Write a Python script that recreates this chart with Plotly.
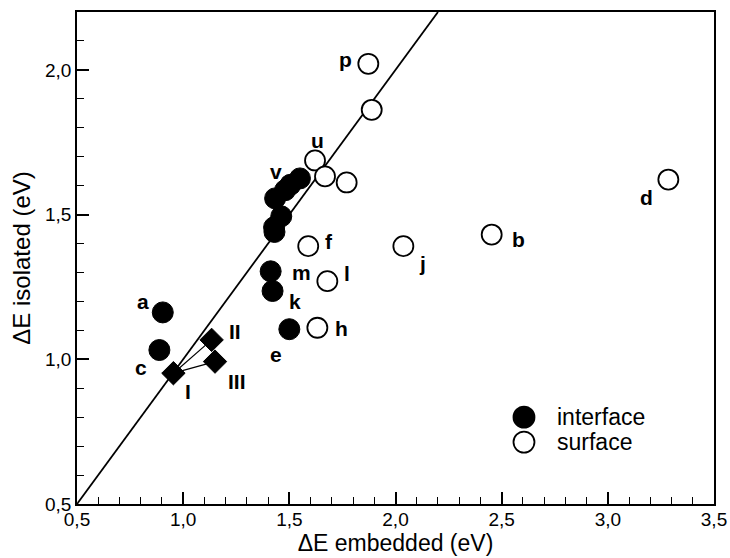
import plotly.graph_objects as go

# Excitation energies (eV): embedded-cluster vs isolated-cluster values
interface_x = [0.904, 0.888, 1.500, 1.421, 1.412, 1.430, 1.428, 1.462, 1.433, 1.480, 1.505, 1.550]
interface_y = [1.162, 1.032, 1.104, 1.236, 1.304, 1.440, 1.456, 1.494, 1.556, 1.584, 1.603, 1.625]
interface_lbl = ["a", "c", "e", "k", "m", "", "", "", "", "", "", "v"]

surface_x = [1.632, 1.589, 1.679, 2.037, 2.453, 3.285, 1.872, 1.888, 1.621, 1.668, 1.770]
surface_y = [1.109, 1.391, 1.270, 1.391, 1.431, 1.621, 2.021, 1.862, 1.687, 1.632, 1.611]
surface_lbl = ["h", "f", "l", "j", "b", "d", "p", "", "u", "", ""]

model_x = [0.954, 1.134, 1.150]
model_y = [0.952, 1.067, 0.992]
model_lbl = ["I", "II", "III"]

x_range = [0.5, 3.5]
y_range = [0.5, 2.2]
x_ticks = [0.5, 1.0, 1.5, 2.0, 2.5, 3.0, 3.5]
x_ticktext = ["0,5", "1,0", "1,5", "2,0", "2,5", "3,0", "3,5"]
y_ticks = [0.5, 1.0, 1.5, 2.0]
y_ticktext = ["0,5", "1,0", "1,5", "2,0"]

legend_names = ["interface", "surface"]

# label offsets in pixels (dx right, dy up) relative to each marker
label_shift = {
    "a": (-20, 11), "c": (-18, -17), "e": (-13, -25), "k": (22, -11),
    "m": (31, -1), "v": (-24, 7), "h": (24, -1), "f": (21, 5),
    "l": (20, 8), "j": (19, -17), "b": (27, -5), "d": (-22, -18),
    "p": (-23, 4), "u": (2, 20), "I": (15, -18), "II": (23, 8), "III": (22, -20),
}

FONT = "Liberation Sans, Arial, Helvetica, sans-serif"

fig = go.Figure()

# y = x reference line
fig.add_trace(go.Scatter(
    x=[x_range[0], y_range[1]], y=[y_range[0], y_range[1]], mode="lines",
    line=dict(color="black", width=1.8), showlegend=False, hoverinfo="skip"))

# connectors from model I to models II and III
for k in (1, 2):
    fig.add_trace(go.Scatter(
        x=[model_x[0], model_x[k]], y=[model_y[0], model_y[k]], mode="lines",
        line=dict(color="black", width=1.2), showlegend=False, hoverinfo="skip"))

fig.add_trace(go.Scatter(
    x=interface_x, y=interface_y, mode="markers", name=legend_names[0],
    showlegend=False,
    marker=dict(symbol="circle", size=21, color="black",
                line=dict(color="black", width=1))))

fig.add_trace(go.Scatter(
    x=surface_x, y=surface_y, mode="markers", name=legend_names[1],
    showlegend=False,
    marker=dict(symbol="circle", size=20, color="white",
                line=dict(color="black", width=1.8))))

fig.add_trace(go.Scatter(
    x=model_x, y=model_y, mode="markers", showlegend=False,
    marker=dict(symbol="diamond", size=18, color="black",
                line=dict(color="black", width=1))))

annotations = []
for xs, ys, ls in ((interface_x, interface_y, interface_lbl),
                   (surface_x, surface_y, surface_lbl),
                   (model_x, model_y, model_lbl)):
    for xv, yv, lb in zip(xs, ys, ls):
        if not lb:
            continue
        dx, dy = label_shift[lb]
        annotations.append(dict(
            x=xv, y=yv, xref="x", yref="y", text=lb, showarrow=False,
            xshift=dx, yshift=dy,
            font=dict(family=FONT, size=21, color="black", weight="bold")))

# key in the lower right: marker symbols drawn as pixel-sized paper shapes
key_x, key_text_x = 0.7017, 0.7504
key_rows = [0.1765, 0.1258]
key_fill = ["black", "white"]
shapes = []
for name, yrow, fill in zip(legend_names, key_rows, key_fill):
    shapes.append(dict(
        type="circle", xref="paper", yref="paper", xsizemode="pixel",
        ysizemode="pixel", xanchor=key_x, yanchor=yrow,
        x0=-10.5, x1=10.5, y0=-10.5, y1=10.5,
        fillcolor=fill, line=dict(color="black", width=1.8)))
    annotations.append(dict(
        x=key_text_x, y=yrow, xref="paper", yref="paper", text=name,
        showarrow=False, xanchor="left", yanchor="middle",
        font=dict(family=FONT, size=23, color="black")))

axis_common = dict(
    showgrid=False, zeroline=False, showline=True, linecolor="black",
    linewidth=1.5, mirror=True, ticks="inside", ticklen=12, tickwidth=1.5,
    tickcolor="black", tickfont=dict(family=FONT, size=19, color="black"),
    automargin=False,
)

fig.update_xaxes(
    range=x_range, tickmode="array", tickvals=x_ticks, ticktext=x_ticktext,
    minor=dict(ticks="inside", ticklen=7, tickwidth=1.2, tickcolor="black",
               dtick=0.1, tick0=0.5, showgrid=False),
    ticklabelstandoff=-3,
    title=dict(text="ΔE embedded (eV)", font=dict(family=FONT, size=23, color="black"),
               standoff=0),
    **axis_common)
fig.update_yaxes(
    range=y_range, tickmode="array", tickvals=y_ticks, ticktext=y_ticktext,
    minor=dict(ticks="inside", ticklen=7, tickwidth=1.2, tickcolor="black",
               dtick=0.1, tick0=0.5, showgrid=False),
    title=dict(text="ΔE isolated (eV)", font=dict(family=FONT, size=24, color="black"),
               standoff=8),
    **axis_common)

fig.update_layout(
    width=730, height=558,
    margin=dict(l=77, r=16, t=12, b=54),
    paper_bgcolor="white", plot_bgcolor="white",
    font=dict(family=FONT, color="black"),
    annotations=annotations,
    shapes=shapes,
    showlegend=False,
)

fig.write_html("out.html")
